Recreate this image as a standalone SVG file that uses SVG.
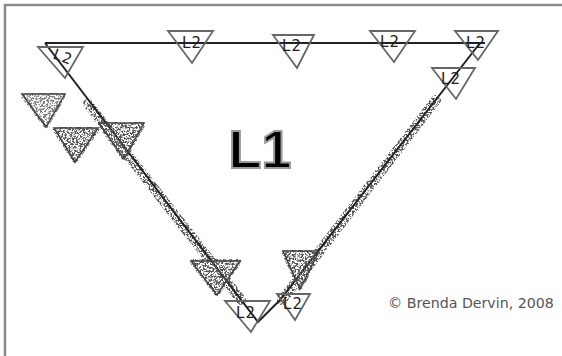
<svg xmlns="http://www.w3.org/2000/svg" width="562" height="356" viewBox="0 0 562 356">
<defs>
<style>
.frame{stroke:#8a8a8a;stroke-width:2.5;fill:none}
.tri{fill:none;stroke:#666;stroke-width:1.8;stroke-linejoin:miter}
.lbl{font-family:"DejaVu Sans",sans-serif;font-size:15px;fill:#222;text-anchor:middle;letter-spacing:1px}
.edge{stroke:#222;stroke-width:2;fill:none}
.sp{fill:#555;stroke:#555;stroke-width:6;stroke-linejoin:round}
.spo{fill:none;stroke:#444;stroke-width:1.5}
.spl{fill:none;stroke:#555;stroke-width:10;stroke-linecap:round}
.big{font-family:"Liberation Sans",Arial,sans-serif;font-weight:bold;font-size:54px;fill:#000;stroke:#999;stroke-width:2;text-anchor:middle}
.copy{font-family:"DejaVu Sans",sans-serif;font-size:14.2px;fill:#555}
</style>
<filter id="speckle" x="-20%" y="-20%" width="140%" height="140%">
<feTurbulence type="fractalNoise" baseFrequency="0.55" numOctaves="2" seed="7" result="n"/>
<feColorMatrix in="n" type="matrix" values="0 0 0 0 0  0 0 0 0 0  0 0 0 0 0  7 0 0 0 -3.1" result="m"/>
<feComposite in="SourceGraphic" in2="m" operator="in"/>
</filter>
</defs>
<rect width="562" height="356" fill="#fff"/>
<path class="frame" d="M5,356 V5 H562"/>

<g id="noise" filter="url(#speckle)">
<polyline class="spl" points="88,104 241,300"/>
<polyline class="spl" points="436,100 282,300"/>
</g>

<g id="connectors">
<line class="edge" x1="45" y1="43" x2="485" y2="43"/>
<polyline class="edge" points="45,43 258,322 280,300 480,43"/>
</g>

<g id="s1" filter="url(#speckle)" opacity="0.75">
<polygon class="sp" points="24,96 63,96 46,125"/>
</g>
<g id="s2" filter="url(#speckle)">
<polygon class="sp" points="56,130 96,130 75,160"/>
</g>
<g id="s3" filter="url(#speckle)">
<polygon class="sp" points="101,125 142,125 124,157"/>
</g>
<g id="s4" filter="url(#speckle)">
<polygon class="sp" points="193,262 238,262 217,293"/>
</g>
<g id="s5" filter="url(#speckle)">
<polygon class="sp" points="285,253 317,253 300,287"/>
</g>
<g id="so">
<polygon class="spo" points="22,94 65,94 46,127"/>
<polygon class="spo" points="54,128 98,128 75,162"/>
<polygon class="spo" points="99,123 144,123 124,159"/>
<polygon class="spo" points="191,261 240,261 217,295"/>
<polygon class="spo" points="283,251 319,251 300,289"/>
</g>

<g id="n1"><polygon class="tri" points="38,47 83,47 65,78"/><text class="lbl" x="63" y="62" transform="rotate(20 63 57)">L2</text></g>
<g id="n2"><polygon class="tri" points="168,31 213,31 192,63"/><text class="lbl" x="192" y="48">L2</text></g>
<g id="n3"><polygon class="tri" points="273,35 314,35 297,68"/><text class="lbl" x="292" y="51">L2</text></g>
<g id="n4"><polygon class="tri" points="370,31 415,31 394,62"/><text class="lbl" x="390" y="47">L2</text></g>
<g id="n5"><polygon class="tri" points="455,31 498,31 478,60"/><text class="lbl" x="476" y="48">L2</text></g>
<g id="n6"><polygon class="tri" points="432,68 475,68 456,99"/><text class="lbl" x="451" y="84">L2</text></g>
<g id="n7"><polygon class="tri" points="225,301 270,301 251,332"/><text class="lbl" x="246" y="318">L2</text></g>
<g id="n8"><polygon class="tri" points="277,294 310,294 295,320"/><text class="lbl" x="293" y="309">L2</text></g>

<g id="l1"><text class="big" x="260" y="168">L1</text></g>
<text class="copy" x="388" y="308">© Brenda Dervin, 2008</text>
</svg>
